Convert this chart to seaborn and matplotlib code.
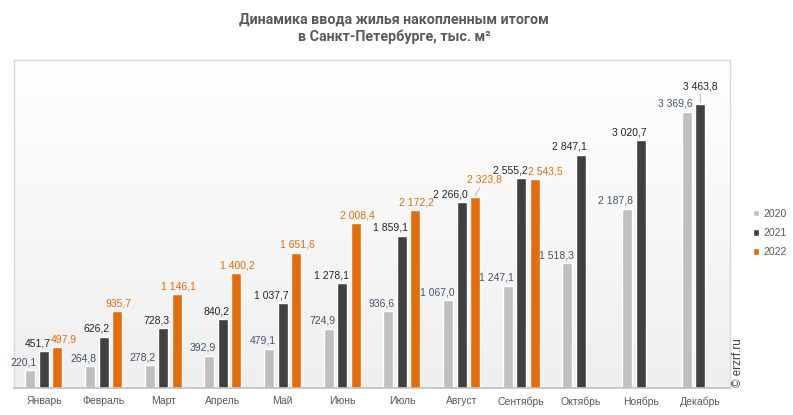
import numpy as np
import pandas as pd
import seaborn as sns
import matplotlib.pyplot as plt
from matplotlib.colors import LinearSegmentedColormap

months = ["Январь", "Февраль", "Март", "Апрель", "Май", "Июнь",
          "Июль", "Август", "Сентябрь", "Октябрь", "Ноябрь", "Декабрь"]
years = ["2020", "2021", "2022"]
v2020 = [220.1, 264.8, 278.2, 392.9, 479.1, 724.9, 936.6, 1067.0, 1247.1, 1518.3, 2187.8, 3369.6]
v2021 = [451.7, 626.2, 728.3, 840.2, 1037.7, 1278.1, 1859.1, 2266.0, 2555.2, 2847.1, 3020.7, 3463.8]
v2022 = [497.9, 935.7, 1146.1, 1400.2, 1651.6, 2008.4, 2172.2, 2323.8, 2543.5]

bar_colors = ["#bfbfbf", "#404040", "#e46c0a"]
label_colors = ["#44546a", "#262626", "#e46c0a"]

rows = []
for year, vals in zip(years, [v2020, v2021, v2022]):
    for m, v in zip(months, vals):
        rows.append({"month": m, "year": year, "value": v})
df = pd.DataFrame(rows)

sns.set_style("white")
plt.rcParams["font.family"] = ["Liberation Sans", "DejaVu Sans"]

fig = plt.figure(figsize=(7.93, 4.15), dpi=100)
ax = fig.add_axes([0.0177, 0.0651, 0.9029, 0.7903])

# gradient background of the plot area
grad = LinearSegmentedColormap.from_list("g", ["#efefef", "#ffffff"])
ax.imshow(np.linspace(0, 1, 256).reshape(-1, 1), cmap=grad, extent=[0, 1, 0, 1],
          transform=ax.transAxes, aspect="auto", origin="lower", zorder=0)

sns.barplot(data=df, x="month", y="value", hue="year", order=months, hue_order=years,
            palette=bar_colors, width=0.68, gap=0.26, dodge=True, saturation=1,
            ax=ax, zorder=2)

ax.set_xlim(-0.5, 11.5)
ax.set_ylim(0, 4000)


def fmt(v):
    return f"{v:,.1f}".replace(",", " ").replace(".", ",")


# special placements: (series index, month index) -> (ha, dx, dy, leader)
special = {(2, 0): ("left", -1, 2, False), (2, 8): ("left", -1, 2, False),
           (2, 7): ("left", -2, 9, True), (1, 11): ("center", 0, 9, True)}

for si, (cont, vals) in enumerate(zip(ax.containers, [v2020, v2021, v2022])):
    for mi, (bar, v) in enumerate(zip(cont, vals)):
        x0 = bar.get_x()
        w = bar.get_width()
        ha, dx, dy, leader = special.get((si, mi), ("right" if si < 2 else "center", 1, 2, False))
        if ha == "right":
            x = x0 + w
        elif ha == "left":
            x = x0
        else:
            x = x0 + w / 2
        ax.annotate(fmt(v), (x, v), xytext=(dx, dy), textcoords="offset points",
                    ha=ha, va="bottom", fontsize=7.5, color=label_colors[si], zorder=4)
        if leader:
            ax.plot([x0 + w / 2, x0 + w / 2 + (0.08 if ha == "left" else 0)],
                    [v + 20, v + 120], color="#bfbfbf", lw=0.8, zorder=3)

ax.set_xlabel("")
ax.set_ylabel("")
ax.set_yticks([])
ax.set_xticks(range(12))
ax.set_xticklabels(months, fontsize=7.5, color="#595959")
ax.set_xticks(np.arange(-0.5, 12, 1), minor=True)
ax.tick_params(axis="x", which="major", length=0, pad=6)
ax.tick_params(axis="x", which="minor", length=4, color="#bfbfbf", width=1, direction="out")

for side in ["top", "left", "right"]:
    ax.spines[side].set_color("#d9d9d9")
    ax.spines[side].set_linewidth(1)
ax.spines["bottom"].set_color("#bfbfbf")
ax.spines["bottom"].set_linewidth(1.2)

handles, labels = ax.get_legend_handles_labels()
ax.legend(handles, labels, loc="upper left", bbox_to_anchor=(0.938, 0.52),
          bbox_transform=fig.transFigure, frameon=False, handlelength=0.6,
          handleheight=0.6, handletextpad=0.4, labelspacing=0.9, fontsize=7.5,
          labelcolor="#595959")

fig.text(0.497, 0.97, "Динамика ввода жилья накопленным итогом\nв Санкт-Петербурге, тыс. м²",
         ha="center", va="top", fontsize=10.3, fontweight="bold", color="#595959",
         family=["Roboto", "DejaVu Sans"], linespacing=1.3)

fig.text(0.931, 0.068, "© erzrf.ru", rotation=90, ha="center", va="bottom",
         fontsize=8.5, color="#404040")

fig.savefig("out.png", dpi=100)
